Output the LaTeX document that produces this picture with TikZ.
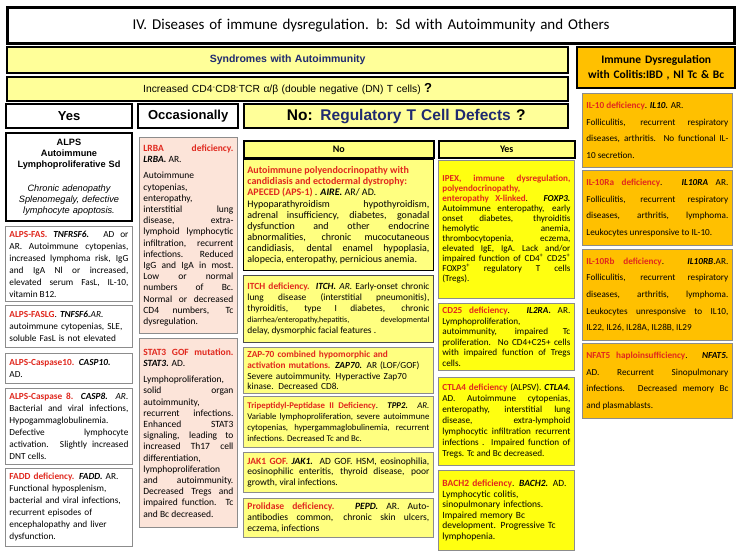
\documentclass[tikz,border=0pt]{standalone}
\usepackage{fontspec}
\setmainfont{Carlito}
\newfontfamily\arialf{Liberation Sans}
\usepackage{xcolor}
\definecolor{myred}{HTML}{E0281E}
\definecolor{navy}{HTML}{1F2A70}
\definecolor{paley}{HTML}{FFFF99}
\definecolor{midy}{HTML}{FFFF80}
\definecolor{bry}{HTML}{FFFF10}
\definecolor{pinkf}{HTML}{FCE4D9}
\definecolor{orng}{HTML}{FFC000}
\definecolor{gbd}{HTML}{8C8C8C}
\hyphenpenalty=10000
\exhyphenpenalty=10000
\newcommand\rd[1]{\textcolor{myred}{\textbf{#1}}}
\newcommand\bi[1]{\textbf{\textit{#1}}}
\newcommand\fs[2]{\fontsize{#1}{#2}\selectfont}
\newcommand\bxx[7]{%
 \pgfmathsetmacro\bxw{#4-#2}\pgfmathsetmacro\bxh{#5-#3}\pgfmathsetmacro\bxt{#4-#2-8}%
 \node[#6, anchor=north west, minimum width=\bxw pt, minimum height=\bxh pt, text width=\bxt pt] (#1) at (#2,#3) {#7};}
\tikzset{
 hbox/.style={draw=black, line width=2.4pt, inner xsep=4pt, inner ysep=0pt, align=center},
 gbox/.style={draw=gbd, line width=0.8pt, fill=white, inner xsep=4pt, inner ysep=1pt, align=justify, font=\fs{9.3}{12}},
 pbox/.style={gbox, fill=pinkf, font=\fs{9.5}{11.2}},
 nbox/.style={gbox, fill=midy, font=\fs{9.6}{10.8}},
 ybox/.style={gbox, fill=bry, font=\fs{9.2}{10.5}},
 obox/.style={gbox, fill=orng, font=\fs{9.2}{16.7}},
}
\begin{document}
\begin{tikzpicture}[x=1pt,y=-1pt]
\useasboundingbox (0,0) rectangle (739,555);
\fill[white] (0,0) rectangle (739,555);
% headers
\bxx{title}{6}{6}{733}{42}{hbox, line width=3pt, fill=white, font=\fs{15}{18}}{IV. Diseases of immune dysregulation. b: Sd with Autoimmunity and Others}
\bxx{syn}{6}{46}{567}{72}{hbox, fill=paley, text=navy, font=\arialf\bfseries\fs{10.5}{12}}{Syndromes with Autoimmunity}
\bxx{inc}{6}{76}{567}{100}{hbox, fill=paley, font=\arialf\fs{10.3}{11}}{Increased CD4\textsuperscript{-}CD8\textsuperscript{-}TCR α/β (double negative (DN) T cells) {\bfseries\fs{13}{13}?}}
\bxx{rhd}{576}{46}{734}{87}{hbox, fill=orng, font=\bfseries\fs{11.5}{15}}{Immune Dysregulation\\with Colitis:IBD , Nl Tc \& Bc}
\bxx{yes}{5}{103}{131}{127}{hbox, fill=white, font=\arialf\bfseries\fs{13}{14}}{Yes}
\bxx{occ}{137}{103}{237}{127}{hbox, fill=white, font=\arialf\bfseries\fs{13}{14}}{Occasionally}
\bxx{noreg}{243}{103}{567}{127}{hbox, fill=paley, font=\arialf\bfseries\fs{15.5}{16}}{No: \textcolor{navy}{Regulatory T Cell Defects} ?}
\bxx{nohd}{243}{140}{433}{157}{hbox, line width=1.5pt, fill=midy, font=\bfseries\fs{10}{11}}{No}
\bxx{yeshd}{438}{140}{574}{157}{hbox, line width=1.5pt, fill=midy, font=\bfseries\fs{10}{11}}{Yes}
% left column
\bxx{alps}{5}{132}{131}{220}{hbox, line width=2pt, fill=white, font=\arialf\fs{9.2}{11}}{{\bfseries ALPS\\Autoimmune\\Lymphoproliferative Sd}\\[13pt]{\itshape Chronic adenopathy\\Splenomegaly, defective\\lymphocyte apoptosis.}}
\bxx{fas}{5}{226}{132}{301}{gbox}{\rd{ALPS-FAS.} \bi{TNFRSF6.} AD or\linebreak AR. Autoimmune cytopenias,\linebreak increased lymphoma risk, IgG\linebreak and IgA Nl or increased,\linebreak elevated serum FasL, IL-10,\linebreak vitamin B12.}
\bxx{faslg}{5}{305}{132}{347}{gbox, align=left}{\rd{ALPS-FASLG}. \bi{TNFSF6.}\textit{AR.}\\autoimmune cytopenias, SLE,\\soluble FasL is not elevated}
\bxx{c10}{5}{353}{132}{383}{gbox, align=left}{\rd{ALPS-Caspase10.} \bi{CASP10.}\\AD.}
\bxx{c8}{5}{388}{132}{464}{gbox}{\rd{ALPS-Caspase 8.} \bi{CASP8.} \textit{AR.}\linebreak Bacterial and viral infections,\linebreak Hypogammaglobulinemia.\linebreak Defective lymphocyte\linebreak activation. Slightly increased\linebreak DNT cells.}
\bxx{fadd}{5}{468}{132}{546}{gbox, align=left}{\rd{FADD deficiency.} \bi{FADD.} AR.\\Functional hyposplenism,\\bacterial and viral infections,\\recurrent episodes of\\encephalopathy and liver\\dysfunction.}
% occasionally column
\bxx{lrba}{139}{137}{237}{333}{pbox}{\rd{LRBA deficiency.}\linebreak \bi{LRBA.} AR.\par\vspace{5pt}Autoimmune\linebreak cytopenias,\linebreak enteropathy,\linebreak interstitial lung\linebreak disease, extra-\linebreak lymphoid lymphocytic\linebreak infiltration, recurrent\linebreak infections. Reduced\linebreak IgG and IgA in most.\linebreak Low or normal\linebreak numbers of Bc.\linebreak Normal or decreased\linebreak CD4 numbers, Tc\linebreak dysregulation.}
\bxx{stat}{139}{338}{237}{527}{pbox}{\rd{STAT3 GOF mutation.}\linebreak \bi{STAT3.} AD.\par\vspace{5pt}Lymphoproliferation,\linebreak solid organ\linebreak autoimmunity,\linebreak recurrent infections.\linebreak Enhanced STAT3\linebreak signaling, leading to\linebreak increased Th17 cell\linebreak differentiation,\linebreak lymphoproliferation\linebreak and autoimmunity.\linebreak Decreased Tregs and\linebreak impaired function. Tc\linebreak and Bc decreased.}
% No column
\bxx{apeced}{243}{159}{433}{270}{nbox, draw=black, font=\fs{10}{11}}{\rd{Autoimmune polyendocrinopathy with}\\\rd{candidiasis and ectodermal dystrophy:}\\\rd{APECED (APS-1)} . \bi{AIRE.} AR/ AD.\par\vspace{1pt}Hypoparathyroidism hypothyroidism,\linebreak adrenal insufficiency, diabetes, gonadal\linebreak dysfunction and other endocrine\linebreak abnormalities, chronic mucocutaneous\linebreak candidiasis, dental enamel hypoplasia,\linebreak alopecia, enteropathy, pernicious anemia.}
\bxx{itch}{243}{275}{433}{342}{nbox, draw=black!70, font=\fs{9.4}{10.8}}{\rd{ITCH deficiency.} \bi{ITCH.} \textit{AR.} Early-onset chronic\linebreak lung disease (interstitial pneumonitis),\linebreak thyroiditis, type I diabetes, chronic\linebreak {\fs{8}{10.8}diarrhea/enteropathy,hepatitis, developmental}\linebreak delay, dysmorphic facial features .}
\bxx{zap}{243}{347}{433}{393}{nbox, align=left, font=\fs{9.3}{10.8}}{\rd{ZAP-70 combined hypomorphic and}\\\rd{activation mutations.} \bi{ZAP70.} AR (LOF/GOF)\\Severe autoimmunity. Hyperactive Zap70\\kinase. Decreased CD8.}
\bxx{tpp}{243}{396}{433}{447}{nbox, font=\fs{8.8}{10.8}}{\rd{Tripeptidyl-Peptidase II Deficiency}. \bi{TPP2.} \textit{AR.}\linebreak Variable lymphoproliferation, severe autoimmune\linebreak cytopenias, hypergammaglobulinemia, recurrent\linebreak infections. Decreased Tc and Bc.}
\bxx{jak}{243}{452}{433}{492}{nbox, font=\fs{9.5}{10.8}}{\rd{JAK1 GOF.} \bi{JAK1.} AD GOF. HSM, eosinophilia,\linebreak eosinophilic enteritis, thyroid disease, poor\linebreak growth, viral infections.}
\bxx{prol}{243}{498}{433}{537}{nbox, font=\fs{9.6}{10.8}}{\rd{Prolidase deficiency.} \bi{PEPD.} AR. Auto-\linebreak antibodies common, chronic skin ulcers,\linebreak eczema, infections}
% Yes column
\bxx{ipex}{438}{160}{574}{298}{ybox, font=\fs{9.1}{10}}{\rd{IPEX, immune dysregulation,}\linebreak \rd{polyendocrinopathy,}\linebreak \rd{enteropathy X-linked}. \bi{FOXP3.}\linebreak Autoimmune enteropathy, early\linebreak onset diabetes, thyroiditis\linebreak hemolytic anemia,\linebreak thrombocytopenia, eczema,\linebreak elevated IgE, IgA. Lack and/or\linebreak impaired function of CD4\textsuperscript{+} CD25\textsuperscript{+}\linebreak FOXP3\textsuperscript{+} regulatory T cells\linebreak (Tregs).}
\bxx{cd25}{438}{303}{574}{370}{ybox}{\rd{CD25 deficiency}. \bi{IL2RA.} AR.\linebreak Lymphoproliferation,\linebreak autoimmunity, impaired Tc\linebreak proliferation. No CD4+C25+ cells\linebreak with impaired function of Tregs\linebreak cells.}
\bxx{ctla}{438}{377}{574}{465}{ybox, font=\fs{9.2}{11}}{\rd{CTLA4 deficiency} (ALPSV). \bi{CTLA4.}\linebreak AD. Autoimmune cytopenias,\linebreak enteropathy, interstitial lung\linebreak disease, extra-lymphoid\linebreak lymphocytic infiltration recurrent\linebreak infections . Impaired function of\linebreak Tregs. Tc and Bc decreased.}
\bxx{bach}{438}{470}{574}{550}{ybox, align=left, font=\fs{9.5}{10.6}}{\rd{BACH2 deficiency}. \bi{BACH2.} AD.\\Lymphocytic colitis,\\sinopulmonary infections.\\Impaired memory Bc\\development. Progressive Tc\\lymphopenia.}
% right column
\bxx{il10}{582}{93}{732}{167}{obox}{\rd{IL-10 deficiency}. \bi{IL10.} AR.\\Folliculitis, recurrent respiratory\linebreak diseases, arthritis. No functional IL-\linebreak 10 secretion.}
\bxx{il10ra}{582}{170}{732}{245}{obox}{\rd{IL-10Ra deficiency}. \bi{IL10RA} AR.\linebreak Folliculitis, recurrent respiratory\linebreak diseases, arthritis, lymphoma.\linebreak Leukocytes unresponsive to IL-10.}
\bxx{il10rb}{582}{249}{732}{340}{obox}{\rd{IL-10Rb deficiency}. \bi{IL10RB}.AR.\linebreak Folliculitis, recurrent respiratory\linebreak diseases, arthritis, lymphoma.\linebreak Leukocytes unresponsive to IL10,\linebreak IL22, IL26, IL28A, IL28B, IL29}
\bxx{nfat}{582}{343}{732}{418}{obox}{\rd{NFAT5 haploinsufficiency}. \bi{NFAT5.}\linebreak AD. Recurrent Sinopulmonary\linebreak infections. Decreased memory Bc\linebreak and plasmablasts.}
\end{tikzpicture}
\end{document}
